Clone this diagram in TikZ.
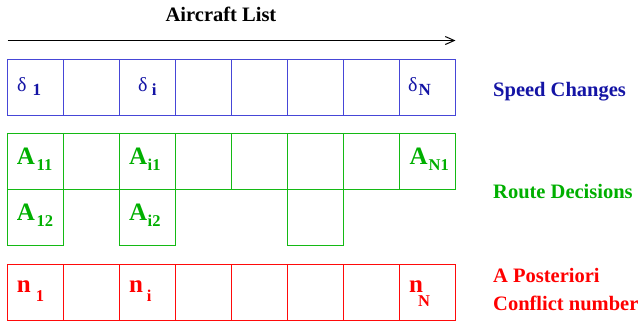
\documentclass[tikz,border=0pt]{standalone}
\usepackage{fontspec}
\setmainfont{Liberation Serif}
\usetikzlibrary{arrows.meta}
\definecolor{bluetxt}{RGB}{20,20,165}
\definecolor{bluelinecol}{RGB}{70,70,215}
\definecolor{greentxt}{RGB}{0,175,0}
\definecolor{greenlinecol}{RGB}{20,185,20}
\definecolor{redtxt}{RGB}{255,0,0}
\definecolor{redlinecol}{RGB}{255,10,10}
\newcommand{\fs}[1]{\fontsize{#1}{#1}\selectfont}
\tikzset{
  boxcell/.style={rectangle, inner sep=0pt, outer sep=0pt, minimum width=56pt, minimum height=56pt},
  bframe/.style={draw=bluelinecol, line width=1pt},
  gframe/.style={draw=greenlinecol, line width=1pt},
  rframe/.style={draw=redlinecol, line width=1pt},
  lbl/.style={inner sep=0pt, anchor=base west},
  big/.style={lbl, font=\fs{25}\bfseries},
  sub/.style={lbl, font=\fs{16.5}\bfseries},
  dlt/.style={lbl, font=\fs{20}},
  dsub/.style={lbl, font=\fs{17}\bfseries},
  side/.style={lbl, font=\fs{20.5}\bfseries},
}
\begin{document}
\begin{tikzpicture}[x=1pt,y=-1pt]
\useasboundingbox (0,0) rectangle (640,325);
% title and arrow
\node[inner sep=0pt, anchor=base, font=\fs{20.5}\bfseries] (title) at (221,21.7) {Aircraft List};
\coordinate (as) at (7.5,40.5);
\coordinate (ae) at (455.5,40.5);
\draw[line width=1pt, -{Straight Barb[length=9pt,width=8pt]}] (as) -- (ae);
% blue row
\foreach \k in {1,...,8} {
  \node[boxcell] (b\k) at ({35.5+56*(\k-1)},87.5) {};
  \draw[bframe] (b\k.south west) rectangle (b\k.north east);
}
% green row 1
\foreach \k in {1,...,8} {
  \node[boxcell] (g\k) at ({35.5+56*(\k-1)},161.5) {};
  \draw[gframe] (g\k.south west) rectangle (g\k.north east);
}
% green row 2
\foreach \k in {1,3,6} {
  \node[boxcell] (h\k) at ({35.5+56*(\k-1)},217.5) {};
  \draw[gframe] (h\k.south west) rectangle (h\k.north east);
}
% red row
\foreach \k in {1,...,8} {
  \node[boxcell] (r\k) at ({35.5+56*(\k-1)},292.5) {};
  \draw[rframe] (r\k.south west) rectangle (r\k.north east);
}
% blue labels
\node[dlt, text=bluetxt] (d1) at (17,91) {δ};
\node[dsub, text=bluetxt] (d1s) at (32.3,95.7) {1};
\node[dlt, text=bluetxt] (di) at (138,91) {δ};
\node[dsub, text=bluetxt] (dis) at (151.7,95.7) {i};
\node[dlt, text=bluetxt] (dN) at (408,91) {δ};
\node[dsub, text=bluetxt] (dNs) at (418.5,95.7) {N};
% green labels
\node[big, text=greentxt] (a11) at (16.7,164) {A};
\node[sub, text=greentxt] (a11s) at (36.5,170.7) {11};
\node[big, text=greentxt] (ai1) at (129,164) {A};
\node[sub, text=greentxt] (ai1s) at (147.5,170.7) {i1};
\node[big, text=greentxt] (aN1) at (409.3,164) {A};
\node[sub, text=greentxt] (aN1s) at (428.5,170.7) {N1};
\node[big, text=greentxt] (a12) at (16.7,220) {A};
\node[sub, text=greentxt] (a12s) at (36.5,226.7) {12};
\node[big, text=greentxt] (ai2) at (129,220) {A};
\node[sub, text=greentxt] (ai2s) at (147.5,226.7) {i2};
% red labels
\node[big, text=redtxt] (n1) at (16.7,292.3) {n};
\node[sub, text=redtxt] (n1s) at (35.7,301.7) {1};
\node[big, text=redtxt] (ni) at (129,292.3) {n};
\node[sub, text=redtxt] (nis) at (146.7,301.7) {i};
\node[big, text=redtxt] (nN) at (409,292.3) {n};
\node[sub, text=redtxt] (nNs) at (418,306.7) {N};
% side labels
\node[side, text=bluetxt] (sc) at (493,96) {Speed Changes};
\node[side, text=greentxt] (rd) at (493,198) {Route Decisions};
\node[side, text=redtxt] (ap) at (493,282.7) {A Posteriori};
\node[side, text=redtxt] (cn) at (493,310.7) {Conflict number};
\end{tikzpicture}
\end{document}
